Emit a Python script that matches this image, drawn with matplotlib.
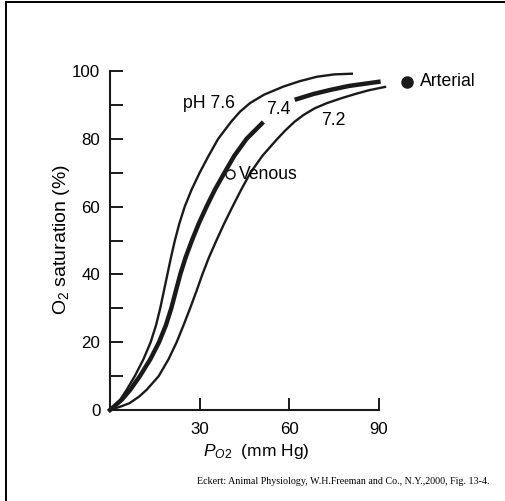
import matplotlib
matplotlib.use("Agg")
import matplotlib.pyplot as plt
from matplotlib.lines import Line2D

plt.rcParams['font.family'] = ['Liberation Sans', 'DejaVu Sans']
plt.rcParams['mathtext.fontset'] = 'custom'
plt.rcParams['mathtext.rm'] = 'Liberation Sans'
plt.rcParams['mathtext.it'] = 'Liberation Sans:italic'

# oxygen dissociation curves (PO2 mm Hg, saturation %)
po2_76 = [0, 3.4, 5.6, 8.3, 11.2, 13.6, 15.4, 16.8, 18.0, 19.2, 20.4, 21.7, 23.2,
          25.0, 27.3, 30.0, 33.0, 36.2, 40.5, 43.5, 46.8, 51.5, 58.0, 63.5, 69.2, 75.0, 80.9]
sat_76 = [0, 3, 6, 10, 15, 20, 25, 30, 35, 40, 45, 50, 55,
          60, 65, 70, 75, 80, 85, 88, 90.5, 93, 95.4, 97, 98.3, 99.0, 99.2]

# pH 7.4 is drawn in two pieces, broken by its label
po2_74a = [0, 3.9, 6.8, 10.0, 13.5, 16.4, 18.7, 20.5, 22.0, 23.5, 25.3, 27.4, 29.7,
           32.3, 35.1, 38.3, 41.6, 45.7, 50.8]
sat_74a = [0, 3, 6, 10, 15, 20, 25, 30, 35, 40, 45, 50, 55,
           60, 65, 70, 75, 80, 84.5]
po2_74b = [62.5, 68.0, 73.6, 80.0, 89.8]
sat_74b = [91.7, 93.2, 94.4, 95.6, 96.8]

po2_72 = [0, 3.5, 6.5, 9.8, 12.3, 16.3, 19.6, 22.3, 24.6, 26.8, 28.9, 30.9, 33.1,
          35.6, 38.2, 41.0, 43.9, 47.0, 51.0, 56.0, 58.7, 61.7, 64.7, 68.5, 72.5,
          77.5, 82.0, 86.5, 92.0]
sat_72 = [0, 1, 2, 4, 6, 10, 15, 20, 25, 30, 35, 40, 45,
          50, 55, 60, 65, 70, 75, 80, 82.5, 85, 87, 89, 90.5,
          92, 93.2, 94.3, 95.3]

venous = (40.1, 69.6)
arterial = (99.5, 96.9)

ink = '#1a1a1a'

fig = plt.figure(figsize=(5.06, 5.01), dpi=100)
ax = fig.add_axes([110/506, 91/501, 269/506, 339/501])

ax.plot(po2_76, sat_76, color=ink, lw=1.7, clip_on=False)
ax.plot(po2_74a, sat_74a, color=ink, lw=3.2, clip_on=False)
ax.plot(po2_74b, sat_74b, color=ink, lw=3.2, clip_on=False)
ax.plot(po2_72, sat_72, color=ink, lw=1.7, clip_on=False)

ax.plot(*venous, 'o', ms=6.5, mfc='white', mec=ink, mew=1.1, clip_on=False)
ax.plot(*arterial, 'o', ms=8, color=ink, clip_on=False)

ax.text(24.5, 90.5, "pH 7.6", fontsize=12.7, ha='left', va='center')
ax.text(52.4, 88.5, "7.4", fontsize=12.7, ha='left', va='center')
ax.text(70.8, 85.3, "7.2", fontsize=12.7, ha='left', va='center')
ax.text(43.3, 69.6, "Venous", fontsize=12.7, ha='left', va='center')
ax.text(103.7, 96.8, "Arterial", fontsize=12.7, ha='left', va='center', clip_on=False)

ax.set_xlim(0, 90)
ax.set_ylim(0, 100)
ax.spines['top'].set_visible(False)
ax.spines['right'].set_visible(False)
for s in ['left', 'bottom']:
    ax.spines[s].set_linewidth(1.5)
    ax.spines[s].set_color(ink)

ax.set_xticks([30, 60, 90])
ax.set_yticks(range(0, 101, 20))
ax.set_yticks(range(10, 100, 20), minor=True)
ax.tick_params(axis='both', which='both', direction='in', length=9, width=1.4,
               color=ink, labelsize=12.2)
ax.tick_params(axis='y', pad=7)
ax.tick_params(axis='x', pad=8.4)

fig.text(61.7/506, 1 - 239/501, r"O$_2$ saturation (%)", rotation=90,
         ha='center', va='center', fontsize=14)
fig.text(203/506, 1 - 451.7/501, r"$P_{O2}$  (mm Hg)", ha='left', va='center',
         fontsize=12.5)
fig.text(197/506, 1 - 482/501,
         "Eckert: Animal Physiology, W.H.Freeman and Co., N.Y.,2000, Fig. 13-4.",
         family=['Liberation Serif'], fontsize=7.2, ha='left', va='center')

# frame lines at the top and left edge of the slide
fig.add_artist(Line2D([6/506, 1], [1 - 2/501, 1 - 2/501], color='black', lw=1.4))
fig.add_artist(Line2D([6/506, 6/506], [0, 1 - 2/501], color='black', lw=1.4))

fig.savefig("out.png", dpi=100)
